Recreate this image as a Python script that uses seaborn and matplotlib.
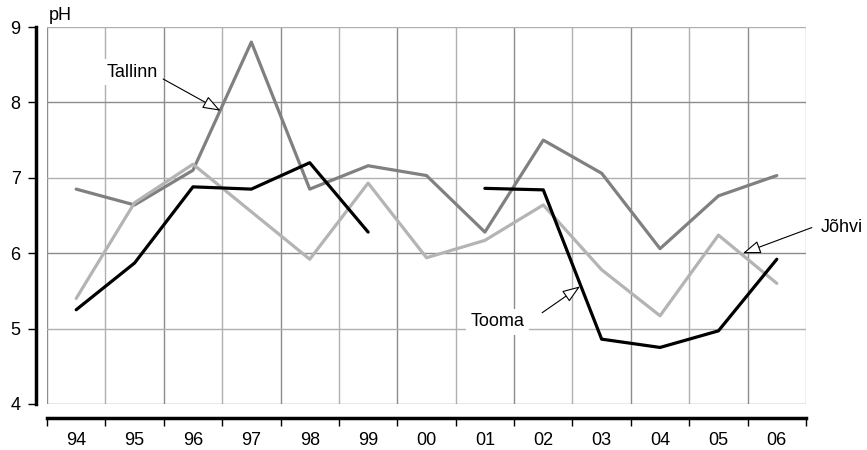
import numpy as np
import pandas as pd
import matplotlib
matplotlib.use("Agg")
import matplotlib.pyplot as plt
import seaborn as sns

years = ["94", "95", "96", "97", "98", "99", "00", "01", "02", "03", "04", "05", "06"]
tallinn = [6.85, 6.64, 7.10, 8.80, 6.85, 7.16, 7.03, 6.28, 7.50, 7.06, 6.06, 6.76, 7.03]
tooma = [5.25, 5.87, 6.88, 6.85, 7.20, 6.28, np.nan, 6.86, 6.84, 4.86, 4.75, 4.97, 5.92]
johvi = [5.40, 6.67, 7.18, 6.55, 5.92, 6.93, 5.94, 6.17, 6.64, 5.78, 5.17, 6.24, 5.60]

sns.set_style("white")
plt.rcParams["font.family"] = ["Liberation Sans", "DejaVu Sans"]
plt.rcParams["text.color"] = "black"
plt.rcParams["xtick.color"] = "black"
plt.rcParams["ytick.color"] = "black"

rows = []
for name, vals in [("Tallinn", tallinn), ("Jõhvi", johvi), ("Tooma", tooma)]:
    seg = 0
    for i, v in enumerate(vals):
        if np.isnan(v):
            seg += 1
            continue
        rows.append({"x": i, "pH": v, "series": name, "seg": seg})
df = pd.DataFrame(rows)

fig = plt.figure(figsize=(8.67, 4.5), dpi=100)
ax = fig.add_axes([47 / 867, 1 - 404 / 450, (806 - 47) / 867, (404 - 27) / 450])

n = len(years)
# grid
for k, b in enumerate(np.arange(-0.5, n, 1.0)):
    ax.axvline(b, color="#8c8c8c" if k % 2 == 0 else "#b0b0b0", lw=1.0, zorder=0)
for k, yv in enumerate(range(4, 10)):
    ax.axhline(yv, color="#8c8c8c" if k % 2 == 0 else "#b0b0b0", lw=1.0, zorder=0)

colors = {"Tallinn": "#808080", "Jõhvi": "#b4b4b4", "Tooma": "#000000"}
for name in ["Tallinn", "Jõhvi", "Tooma"]:
    sub = df[df["series"] == name]
    sns.lineplot(data=sub, x="x", y="pH", units="seg", estimator=None,
                 color=colors[name], lw=2.3, ax=ax, legend=False, zorder=3)

ax.set_xlim(-0.5, n - 0.5)
ax.set_ylim(4, 9)
ax.set_xlabel("")
ax.set_ylabel("")

for s in ["top", "right"]:
    ax.spines[s].set_visible(False)
ax.spines["left"].set_position(("outward", 8))
ax.spines["bottom"].set_position(("outward", 10))
ax.spines["left"].set_linewidth(2.5)
ax.spines["bottom"].set_linewidth(2.5)
ax.spines["left"].set_color("black")
ax.spines["bottom"].set_color("black")

fs = 13
ax.set_yticks(range(4, 10))
ax.set_yticklabels([str(v) for v in range(4, 10)], fontsize=fs)
ax.tick_params(axis="y", direction="out", length=6, width=1, pad=5, left=True, colors="black")

ax.set_xticks(np.arange(-0.5, n, 1.0))
ax.set_xticklabels([])
ax.set_xticks(np.arange(n), minor=True)
ax.set_xticklabels(years, minor=True, fontsize=fs)
ax.tick_params(axis="x", which="major", direction="out", length=6, width=1, bottom=True)
ax.tick_params(axis="x", which="minor", length=0, pad=10, colors="black")

fig.text(49 / 867, 1 - 15 / 450, "pH", fontsize=fs, ha="left", va="center")

arrow = dict(arrowstyle="-|>,head_length=1.1,head_width=0.4", fc="white", ec="black",
             lw=0.8, shrinkA=0, shrinkB=0, mutation_scale=10)
bbox = dict(boxstyle="square,pad=0.25", fc="white", ec="none")

ax.annotate("", xy=(2.47, 7.89), xytext=(1.49, 8.31), arrowprops=arrow, zorder=5)
ax.text(0.96, 8.40, "Tallinn", fontsize=fs, ha="center", va="center", bbox=bbox, zorder=2)

ax.annotate("", xy=(8.63, 5.56), xytext=(7.98, 5.21), arrowprops=arrow, zorder=5)
ax.text(7.21, 5.09, "Tooma", fontsize=fs, ha="center", va="center", bbox=bbox, zorder=2)

ax.annotate("", xy=(11.42, 6.0), xytext=(12.6, 6.34), arrowprops=arrow, zorder=5,
            annotation_clip=False)
ax.text(13.12, 6.34, "Jõhvi", fontsize=fs, ha="center", va="center", clip_on=False)

fig.savefig("out.png", dpi=100)
